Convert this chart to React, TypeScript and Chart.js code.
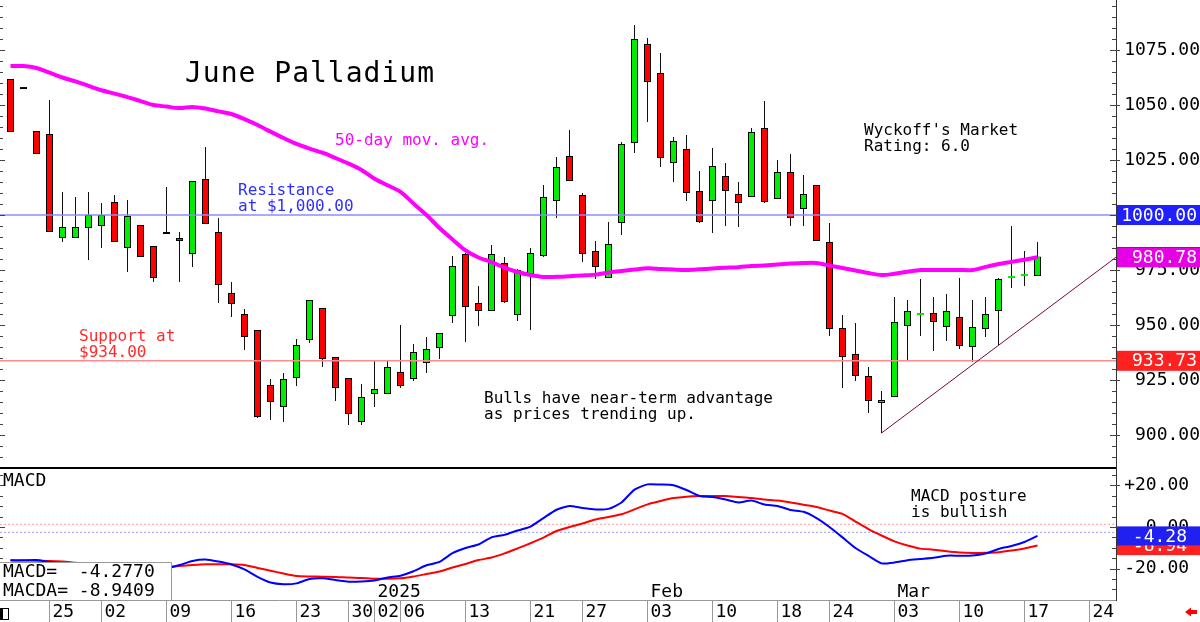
import React, { useEffect, useRef } from 'react';
import { Chart, registerables } from 'chart.js';

Chart.register(...registerables);

const MONO = '"DejaVu Sans Mono", monospace';
Chart.defaults.font.family = MONO;

// ---------- data ----------
const dates = [
  '2024-11-20', '2024-11-21', '2024-11-22', '2024-11-25', '2024-11-26', '2024-11-27', '2024-11-29',
  '2024-12-02', '2024-12-03', '2024-12-04', '2024-12-05', '2024-12-06',
  '2024-12-09', '2024-12-10', '2024-12-11', '2024-12-12', '2024-12-13',
  '2024-12-16', '2024-12-17', '2024-12-18', '2024-12-19', '2024-12-20',
  '2024-12-23', '2024-12-24', '2024-12-26', '2024-12-27',
  '2024-12-30', '2024-12-31', '2025-01-02', '2025-01-03',
  '2025-01-06', '2025-01-07', '2025-01-08', '2025-01-09', '2025-01-10',
  '2025-01-13', '2025-01-14', '2025-01-15', '2025-01-16', '2025-01-17',
  '2025-01-21', '2025-01-22', '2025-01-23', '2025-01-24',
  '2025-01-27', '2025-01-28', '2025-01-29', '2025-01-30', '2025-01-31',
  '2025-02-03', '2025-02-04', '2025-02-05', '2025-02-06', '2025-02-07',
  '2025-02-10', '2025-02-11', '2025-02-12', '2025-02-13', '2025-02-14',
  '2025-02-18', '2025-02-19', '2025-02-20', '2025-02-21',
  '2025-02-24', '2025-02-25', '2025-02-26', '2025-02-27', '2025-02-28',
  '2025-03-03', '2025-03-04', '2025-03-05', '2025-03-06', '2025-03-07',
  '2025-03-10', '2025-03-11', '2025-03-12', '2025-03-13', '2025-03-14',
  '2025-03-17', '2025-03-18',
  '2025-03-19', '2025-03-20', '2025-03-21', '2025-03-24', '2025-03-25', '2025-03-26',
];

const opens = [
  1061.8, 1057.7, 1038.2, 1036.8, 989.5, 989.5, 994.1, 995.0, 1005.9, 985.0,
  995.5, 985.9, 992.3, 989.5, 982.3, 1016.4, 992.3, 964.5, 955.0, 947.7,
  922.7, 912.7, 925.9, 943.2, 957.7, 935.5, 925.9, 905.9, 918.6, 918.6,
  928.6, 925.5, 932.7, 939.5, 954.1, 982.3, 960.0, 956.4, 978.2, 954.5,
  972.3, 981.4, 1006.4, 1026.8, 1009.1, 983.6, 971.4, 996.4, 1032.7, 1077.7,
  1064.5, 1023.6, 1030.0, 1010.9, 1006.4, 1017.7, 1009.5, 1008.2, 1039.5, 1007.3,
  1019.5, 1002.7, 1013.6, 987.7, 948.6, 936.8, 926.8, 914.5, 917.3, 949.5,
  955.0, 955.5, 949.1, 953.6, 940.0, 948.2, 956.4, 971.8, 972.7, 972.3,
];
const highs = [
  1061.8, 1057.7, 1038.2, 1052.3, 1010.5, 1008.2, 1010.5, 1005.5, 1009.1, 1006.8,
  995.5, 985.9, 1012.7, 992.3, 1015.5, 1030.9, 998.6, 969.5, 957.3, 947.7,
  925.5, 928.2, 943.6, 961.4, 957.7, 935.5, 925.9, 923.2, 934.1, 934.1,
  950.0, 941.4, 944.5, 946.4, 981.4, 982.7, 967.7, 986.4, 980.9, 975.5,
  985.0, 1013.6, 1026.4, 1038.6, 1010.0, 988.2, 996.8, 1033.2, 1086.4, 1080.5,
  1073.6, 1035.5, 1036.4, 1020.0, 1030.5, 1023.6, 1015.0, 1039.5, 1051.8, 1025.0,
  1027.7, 1018.2, 1013.6, 996.4, 954.5, 950.9, 930.9, 920.0, 962.7, 961.4,
  970.9, 962.7, 964.1, 971.4, 961.4, 962.7, 971.4, 995.0, 983.6, 987.7,
];
const lows = [
  1037.7, 1057.7, 1027.7, 992.3, 987.7, 989.5, 979.5, 985.0, 987.7, 974.1,
  980.9, 969.5, 991.4, 969.5, 976.4, 995.9, 960.0, 953.6, 938.6, 907.7,
  906.8, 905.9, 922.3, 941.8, 930.9, 915.5, 904.5, 904.5, 912.7, 918.6,
  921.4, 924.5, 928.2, 934.5, 950.9, 942.3, 949.5, 956.4, 960.0, 951.8,
  947.7, 980.9, 998.6, 1015.5, 978.6, 970.9, 971.4, 990.9, 1028.2, 1042.3,
  1021.8, 1015.0, 1006.4, 996.4, 991.8, 995.0, 994.5, 1008.2, 1005.5, 1007.3,
  995.0, 995.0, 988.2, 945.0, 921.4, 924.5, 910.0, 900.9, 917.3, 934.1,
  945.0, 938.2, 942.7, 939.1, 933.2, 944.5, 940.9, 966.8, 967.7, 972.3,
];
const closes = [
  1037.7, 1057.7, 1027.7, 992.3, 994.5, 994.5, 1000.0, 1000.0, 987.7, 999.5,
  980.9, 971.4, 991.4, 988.2, 1015.5, 995.9, 968.2, 959.5, 944.5, 908.2,
  915.0, 925.5, 940.9, 961.4, 934.5, 921.4, 909.5, 917.3, 920.9, 930.9,
  922.3, 937.7, 939.1, 946.4, 976.8, 958.2, 956.4, 982.3, 960.5, 975.0,
  982.7, 1008.2, 1021.8, 1015.5, 982.3, 976.4, 986.8, 1032.3, 1080.0, 1060.5,
  1025.9, 1033.6, 1010.0, 996.8, 1022.3, 1010.9, 1005.5, 1037.7, 1005.9, 1019.5,
  998.6, 1009.5, 988.2, 948.2, 935.5, 926.8, 915.5, 915.9, 951.4, 956.4,
  955.2, 951.4, 956.4, 940.5, 949.1, 955.0, 970.9, 972.0, 972.9, 981.1,
];
const ma50 = [
  1067.7, 1067.7, 1066.8, 1064.7, 1062.5, 1060.7, 1058.7, 1056.7, 1055.2, 1053.6,
  1051.8, 1050.0, 1049.3, 1048.6, 1049.1, 1048.4, 1047.1, 1045.9, 1043.6, 1040.9,
  1037.9, 1035.0, 1032.3, 1030.2, 1028.3, 1025.9, 1023.4, 1020.5, 1016.5, 1013.5,
  1010.5, 1005.2, 1000.0, 994.1, 988.9, 983.9, 980.7, 978.6, 976.1, 974.1,
  972.7, 971.8, 971.9, 972.2, 972.5, 972.9, 973.9, 974.5, 975.2, 975.8,
  975.5, 975.2, 975.0, 975.3, 975.7, 976.0, 976.3, 976.8, 977.1, 977.5,
  977.9, 978.2, 978.2, 977.0, 975.9, 974.8, 973.6, 972.7, 973.3, 974.2,
  975.0, 975.0, 975.0, 975.0, 975.0, 976.4, 977.7, 978.7, 979.7, 980.78,
];
const macdLine = [
  -16.1, -16.0, -15.9, -16.8, -17.5, -18.2, -18.8, -19.3, -19.6, -19.9,
  -20.2, -20.3, -20.0, -18.3, -16.3, -15.6, -16.6, -18.0, -20.4, -24.0,
  -26.7, -27.5, -27.1, -25.0, -24.7, -25.5, -26.3, -26.2, -25.7, -24.3,
  -23.4, -21.3, -18.4, -16.8, -12.6, -10.1, -8.4, -5.0, -3.8, -1.7,
  0.2, 4.3, 8.3, 10.1, 9.1, 8.4, 8.7, 11.8, 18.0, 20.5,
  20.4, 20.1, 17.8, 14.9, 14.4, 13.2, 11.8, 12.7, 10.8, 10.1,
  8.2, 7.3, 4.3, 0.0, -5.0, -10.1, -13.9, -17.5, -17.1, -16.0,
  -15.4, -14.8, -13.8, -13.8, -13.7, -12.7, -10.6, -9.1, -7.2, -4.277,
];
const macdSignal = [
  -15.9, -16.1, -16.2, -16.3, -16.6, -17.2, -17.8, -18.4, -18.9, -19.3,
  -19.5, -19.5, -19.3, -18.8, -18.3, -17.9, -17.9, -17.9, -18.3, -19.7,
  -21.0, -22.4, -23.6, -23.8, -23.9, -24.0, -24.3, -24.5, -24.9, -24.9,
  -24.7, -23.8, -22.6, -21.4, -19.5, -17.8, -15.9, -14.7, -12.7, -10.3,
  -7.8, -5.1, -1.9, 0.0, 1.7, 3.6, 4.8, 6.1, 8.5, 10.9,
  12.5, 13.9, 14.6, 14.9, 14.9, 14.9, 14.4, 13.9, 13.2, 12.7,
  11.8, 10.7, 9.6, 7.9, 6.3, 2.6, -1.0, -4.1, -6.9, -8.9,
  -10.4, -10.9, -11.7, -12.3, -12.5, -12.4, -12.1, -11.3, -10.3, -8.9409,
];

const priceTicks = [900, 925, 950, 975, 1000, 1025, 1050, 1075];
const macdTicks = [-20, 0, 20];
const xTickIdx = [3, 7, 12, 17, 22, 26, 28, 30, 35, 40, 44, 49, 54, 59, 63, 68, 73, 78, 83];
const monthIdx = [28, 49, 68];
const monthLabels = ['2025', 'Feb', 'Mar'];
const resistanceLevel = 1000.0;
const supportLevel = 933.73;
const trendIdx = [67, 85.04];
const trendVals = [900.9, 980.8];
const macdRefLevels = [1.3, -2.55];

// ---------- layout constants ----------
const X_MIN = -0.8077;
const X_MAX = X_MIN + 1116 / 13;
const P_MIN = 885.455;
const P_MAX = 1097.727;
const M_MIN = -35.1;
const M_MAX = 28.85;
const GREEN = '#00ee00';
const RED = '#ff0000';
const last = closes.length - 1;

function drawText(ctx: any, text: string, x: number, y: number, size: number, color: string, spacing = 0) {
  ctx.save();
  ctx.font = `${size}px ${MONO}`;
  ctx.fillStyle = color;
  ctx.textAlign = 'left';
  ctx.textBaseline = 'alphabetic';
  if (spacing && 'letterSpacing' in ctx) ctx.letterSpacing = spacing + 'px';
  ctx.fillText(text, x, y);
  ctx.restore();
}

function valueBox(ctx: any, yPix: number, x0: number, x1: number, h: number, fill: string, text: string,
  textRight: number, textColor: string, stroke?: string) {
  ctx.save();
  ctx.fillStyle = fill;
  ctx.fillRect(x0, yPix - h / 2, x1 - x0, h);
  if (stroke) {
    ctx.strokeStyle = stroke;
    ctx.lineWidth = 1;
    ctx.strokeRect(x0 + 0.5, Math.round(yPix - h / 2) + 0.5, x1 - x0 - 1, h - 1);
  }
  ctx.font = `18px ${MONO}`;
  ctx.textAlign = 'right';
  ctx.textBaseline = 'middle';
  ctx.fillStyle = textColor;
  ctx.fillText(text, textRight, yPix + 1);
  ctx.restore();
}

function axisTicks(ctx: any, scale: any, axisX: number, from: number, to: number, step: number, majorStep: number, topLimit: number, bottomLimit: number) {
  ctx.save();
  ctx.strokeStyle = '#444';
  ctx.lineWidth = 1;
  for (let v = from; v <= to + 1e-9; v += step) {
    const p = Math.round(scale.getPixelForValue(v)) + 0.5;
    if (p < topLimit || p > bottomLimit) continue;
    const major = Math.abs(v % majorStep) < 1e-9;
    ctx.beginPath();
    ctx.moveTo(axisX - (major ? 6 : 4), p);
    ctx.lineTo(axisX + (major ? 4 : 0), p);
    ctx.moveTo(0, p);
    ctx.lineTo(major ? 5 : 3, p);
    ctx.stroke();
  }
  ctx.restore();
}

const pricePlugin = {
  id: 'priceDecor',
  afterDraw(chart: any) {
    const ctx = chart.ctx;
    const y = chart.scales.y;
    const axisX = chart.chartArea.right;
    const right = chart.width;
    axisTicks(ctx, y, axisX, 890, 1095, 5, 25, 0, chart.chartArea.bottom);

    valueBox(ctx, y.getPixelForValue(resistanceLevel), axisX + 1, right, 20, '#1f1fff', resistanceLevel.toFixed(2), right - 3, '#fff');
    valueBox(ctx, y.getPixelForValue(closes[last]), axisX + 1, right, 20, '#fff', closes[last].toFixed(2), right - 3, '#000', '#000');
    valueBox(ctx, y.getPixelForValue(ma50[last]), axisX + 1, right, 20, '#e600e6', ma50[last].toFixed(2), right - 3, '#fff');
    valueBox(ctx, y.getPixelForValue(supportLevel), axisX + 1, right, 20, '#ff2020', supportLevel.toFixed(2), right - 3, '#fff');

    drawText(ctx, 'June Palladium', 185, 82, 28, '#000', 1);
    drawText(ctx, '50-day mov. avg.', 335, 145, 16, '#ff00ff');
    drawText(ctx, 'Resistance', 238, 195, 16, '#2e2eff');
    drawText(ctx, 'at $1,000.00', 238, 211, 16, '#2e2eff');
    drawText(ctx, 'Support at', 79, 341, 16, '#ff2a2a');
    drawText(ctx, '$934.00', 79, 357, 16, '#ff2a2a');
    drawText(ctx, "Wyckoff's Market", 864, 135, 16, '#000');
    drawText(ctx, 'Rating: 6.0', 864, 151, 16, '#000');
    drawText(ctx, 'Bulls have near-term advantage', 484, 403, 16, '#000');
    drawText(ctx, 'as prices trending up.', 484, 419, 16, '#000');
  },
};

const macdPlugin = {
  id: 'macdDecor',
  afterDraw(chart: any) {
    const ctx = chart.ctx;
    const y = chart.scales.y;
    const x = chart.scales.x;
    const area = chart.chartArea;
    const axisX = area.right;
    const right = chart.width;
    ctx.save();
    ctx.fillStyle = '#000';
    ctx.fillRect(0, 0, axisX, 2);
    ctx.restore();
    axisTicks(ctx, y, axisX, -35, 25, 5, 20, 3, area.bottom - 1);

    // legend box
    const boxTop = 95;
    ctx.save();
    ctx.fillStyle = '#fff';
    ctx.fillRect(0, boxTop, 172, area.bottom - boxTop);
    ctx.strokeStyle = '#999';
    ctx.lineWidth = 1;
    ctx.beginPath();
    ctx.moveTo(0, boxTop + 0.5);
    ctx.lineTo(171.5, boxTop + 0.5);
    ctx.lineTo(171.5, area.bottom);
    ctx.stroke();
    ctx.restore();
    drawText(ctx, 'MACD=  ' + macdLine[last].toFixed(4), 3, 110, 18, '#000');
    drawText(ctx, 'MACDA= ' + macdSignal[last].toFixed(4), 3, 129, 18, '#000');

    drawText(ctx, 'MACD', 3, 19, 18, '#000');
    drawText(ctx, 'MACD posture', 911, 34, 16, '#000');
    drawText(ctx, 'is bullish', 911, 50, 16, '#000');
    monthIdx.forEach((m, k) => drawText(ctx, monthLabels[k], x.getPixelForValue(m) + 3, 130, 18, '#000'));

    valueBox(ctx, y.getPixelForValue(macdSignal[last]), axisX + 1, right, 19, '#ff2020', macdSignal[last].toFixed(2), right - 13, '#fff');
    valueBox(ctx, y.getPixelForValue(macdLine[last]), axisX + 1, right, 19, '#2020f0', macdLine[last].toFixed(2), right - 13, '#fff');

    // small markers in the date row
    ctx.save();
    ctx.fillStyle = '#ff0000';
    ctx.beginPath();
    ctx.moveTo(1185, 145);
    ctx.lineTo(1191, 140.5);
    ctx.lineTo(1191, 143);
    ctx.lineTo(1197, 143);
    ctx.lineTo(1197, 147);
    ctx.lineTo(1191, 147);
    ctx.lineTo(1191, 149.5);
    ctx.closePath();
    ctx.fill();
    ctx.fillStyle = '#000';
    ctx.fillRect(0, 141, 3, 12);
    ctx.strokeStyle = '#000';
    ctx.lineWidth = 1;
    ctx.strokeRect(0.5, 141.5, 8, 11);
    ctx.restore();
  },
};

const baseOptions = {
  responsive: false,
  maintainAspectRatio: false,
  animation: false,
  devicePixelRatio: 1,
  events: [],
  layout: { padding: 0, autoPadding: false },
  plugins: { legend: { display: false }, tooltip: { enabled: false }, title: { display: false } },
};

export default function App() {
  const priceRef = useRef<HTMLCanvasElement>(null);
  const macdRef = useRef<HTMLCanvasElement>(null);

  useEffect(() => {
    const idx = opens.map((_, i) => i);
    const bodyData = idx.map((i) => {
      const o = opens[i];
      const c = closes[i];
      return Math.abs(c - o) < 0.5 ? { x: i, y: [o - 0.45, o + 0.45] } : { x: i, y: [o, c] };
    });
    const bodyFill = idx.map((i) => (closes[i] > opens[i] ? GREEN : closes[i] < opens[i] ? RED : '#000'));
    const bodyBorder = idx.map((i) => (Math.abs(closes[i] - opens[i]) < 0.5 ? 0 : 1));
    const wickData = idx.map((i) => ({ x: i, y: [lows[i], highs[i]] }));
    const hLine = (v: number) => [{ x: X_MIN, y: v }, { x: X_MAX, y: v }];

    const priceChart = new Chart(priceRef.current as HTMLCanvasElement, {
      type: 'bar',
      data: {
        datasets: [
          { type: 'bar', label: 'wick', data: wickData, backgroundColor: '#111', borderWidth: 0, barThickness: 1, grouped: false, inflateAmount: 0, order: 6 } as any,
          { type: 'bar', label: 'body', data: bodyData, backgroundColor: bodyFill, borderColor: '#000', borderWidth: bodyBorder, borderSkipped: false, barThickness: 7, grouped: false, inflateAmount: 0, order: 5 } as any,
          { type: 'line', label: 'resistance', data: hLine(resistanceLevel), borderColor: '#8c8cff', borderWidth: 1.5, pointRadius: 0, order: 4 } as any,
          { type: 'line', label: 'support', data: hLine(supportLevel), borderColor: '#ff8c8c', borderWidth: 1.5, pointRadius: 0, order: 4 } as any,
          { type: 'line', label: 'trend', data: trendIdx.map((v, k) => ({ x: v, y: trendVals[k] })), borderColor: '#800040', borderWidth: 1, pointRadius: 0, order: 3 } as any,
          { type: 'line', label: '50-day MA', data: ma50.map((v, i) => ({ x: i, y: v })), borderColor: '#ff00ff', borderWidth: 4, pointRadius: 0, tension: 0.3, order: 1 } as any,
        ],
      },
      options: {
        ...baseOptions,
        scales: {
          x: { type: 'linear', display: false, min: X_MIN, max: X_MAX, offset: false, grid: { offset: false } },
          y: {
            type: 'linear', position: 'right', min: P_MIN, max: P_MAX,
            afterBuildTicks: (s: any) => { s.ticks = priceTicks.map((v) => ({ value: v })); },
            ticks: { color: '#000', font: { family: MONO, size: 18 }, padding: 5, crossAlign: 'far', callback: (v: any) => Number(v).toFixed(2) },
            grid: { display: false, drawTicks: false },
            border: { display: true, color: '#333', width: 1 },
            afterFit: (s: any) => { s.width = 84; s.paddingTop = 0; s.paddingBottom = 0; },
          },
        },
      } as any,
      plugins: [pricePlugin],
    });

    const macdChart = new Chart(macdRef.current as HTMLCanvasElement, {
      type: 'line',
      data: {
        datasets: [
          { label: 'ref1', data: hLine(macdRefLevels[0]), borderColor: '#ff9a9a', borderWidth: 1, borderDash: [2, 2], pointRadius: 0, order: 4 },
          { label: 'ref2', data: hLine(macdRefLevels[1]), borderColor: '#9a9aff', borderWidth: 1, borderDash: [2, 2], pointRadius: 0, order: 4 },
          { label: 'MACDA', data: macdSignal.map((v, i) => ({ x: i, y: v })), borderColor: '#ff0000', borderWidth: 2, pointRadius: 0, tension: 0.2, order: 2 },
          { label: 'MACD', data: macdLine.map((v, i) => ({ x: i, y: v })), borderColor: '#0000ff', borderWidth: 2, pointRadius: 0, tension: 0.2, order: 1 },
        ] as any,
      },
      options: {
        ...baseOptions,
        scales: {
          x: {
            type: 'linear', min: X_MIN, max: X_MAX, offset: false,
            afterBuildTicks: (s: any) => { s.ticks = xTickIdx.map((v) => ({ value: v })); },
            ticks: {
              autoSkip: false, maxRotation: 0, minRotation: 0, align: 'start', labelOffset: 3, padding: -20,
              color: '#000', font: { family: MONO, size: 18 },
              callback: (v: any) => (dates[Math.round(Number(v))] || '').slice(8, 10),
            },
            grid: { display: true, drawOnChartArea: false, drawTicks: true, tickLength: 22, color: '#999', lineWidth: 1, offset: false },
            border: { display: true, color: '#999', width: 1 },
            afterFit: (s: any) => { s.height = 22; s.paddingLeft = 0; s.paddingRight = 0; },
          },
          y: {
            type: 'linear', position: 'right', min: M_MIN, max: M_MAX,
            afterBuildTicks: (s: any) => { s.ticks = macdTicks.map((v) => ({ value: v })); },
            ticks: {
              color: '#000', font: { family: MONO, size: 18 }, padding: 6, crossAlign: 'far',
              callback: (v: any) => (Number(v) > 0 ? '+' : '') + Number(v).toFixed(2) + ' ',
            },
            grid: { display: false, drawTicks: false },
            border: { display: true, color: '#333', width: 1 },
            afterFit: (s: any) => { s.width = 84; s.paddingTop = 0; s.paddingBottom = 0; },
          },
        },
      } as any,
      plugins: [macdPlugin],
    });

    return () => {
      priceChart.destroy();
      macdChart.destroy();
    };
  }, []);

  return (
    <div style={{ position: 'fixed', left: 0, top: 0, width: 1200, height: 622, background: '#fff', overflow: 'hidden' }}>
      <canvas ref={priceRef} width={1200} height={467} style={{ position: 'absolute', left: 0, top: 0, width: 1200, height: 467 }} />
      <canvas ref={macdRef} width={1200} height={155} style={{ position: 'absolute', left: 0, top: 467, width: 1200, height: 155 }} />
    </div>
  );
}
